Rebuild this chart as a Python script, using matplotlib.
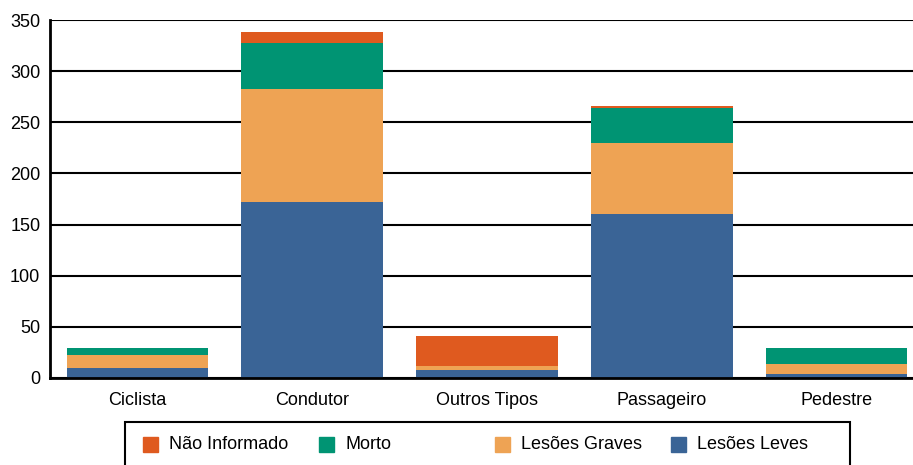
import numpy as np
import matplotlib.pyplot as plt
from matplotlib.patches import Rectangle

plt.rcParams['font.family'] = ['Liberation Sans', 'DejaVu Sans']

categorias = ['Ciclista', 'Condutor', 'Outros Tipos', 'Passageiro', 'Pedestre']
lesoes_leves = [10, 172, 8, 160, 4]
lesoes_graves = [12, 111, 4, 70, 10]
morto = [7, 45, 0, 34, 15]
nao_informado = [0, 10, 29, 2, 0]

series = ['Lesões Leves', 'Lesões Graves', 'Morto', 'Não Informado']
valores = [lesoes_leves, lesoes_graves, morto, nao_informado]
cores = ['#3A6496', '#EEA354', '#009473', '#DF5A1F']

W, H = 913, 465
fig = plt.figure(figsize=(W / 100, H / 100), dpi=100)
ax = fig.add_axes([50 / W, 1 - 378 / H, 874 / W, 358 / H])

x = np.arange(len(categorias))
base = np.zeros(len(categorias))
for nome, v, c in zip(series, valores, cores):
    ax.bar(x, v, 0.81, bottom=base, color=c, zorder=3, label=nome)
    base += np.array(v)

ax.set_xlim(-0.5, 4.5)
ax.set_ylim(0, 350)
ax.set_yticks(range(0, 351, 50))
ax.set_xticks(x)
ax.set_xticklabels(categorias)
ax.tick_params(length=0, labelsize=13, pad=10)
ax.tick_params(axis='y', pad=7)
ax.yaxis.grid(True, color='black', linewidth=1.5, zorder=0)
for s in ['top', 'right']:
    ax.spines[s].set_visible(False)
for s in ['left', 'bottom']:
    ax.spines[s].set_linewidth(2)
    ax.spines[s].set_zorder(4)

# legenda com colunas de largura igual
fig.patches.append(Rectangle((125 / W, -0.05), 725 / W, 1 - 422 / H + 0.05,
                             transform=fig.transFigure, fill=False,
                             edgecolor='black', linewidth=1.5))
ordem = [3, 2, 1, 0]
for i, k in enumerate(ordem):
    x0 = (143 + 176 * i) / W
    fig.patches.append(Rectangle((x0, 1 - 452 / H), 15 / W, 15 / H,
                                 transform=fig.transFigure, color=cores[k]))
    fig.text(x0 + 26 / W, 1 - 444 / H, series[k], fontsize=13, va='center')

fig.savefig('out.png', dpi=100)
